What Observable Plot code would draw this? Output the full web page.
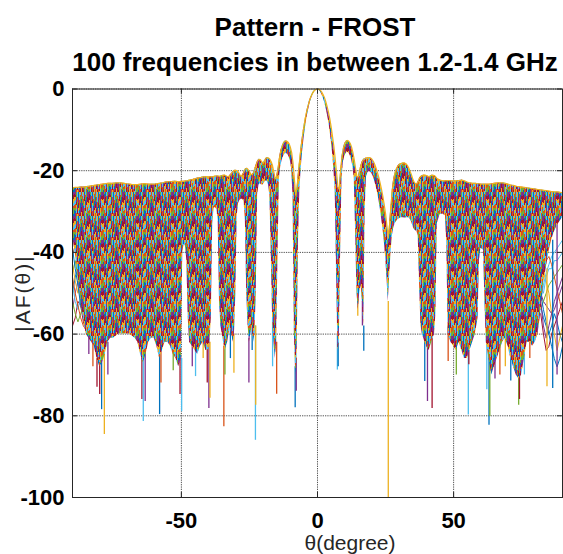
<!DOCTYPE html>
<html><head><meta charset="utf-8">
<script src="https://cdn.jsdelivr.net/npm/d3@7"></script>
<script src="https://cdn.jsdelivr.net/npm/@observablehq/plot@0.6"></script>
<style>
html,body{margin:0;padding:0;background:#fff;overflow:hidden}
#wrap{position:relative;width:563px;height:554px;font-family:"Liberation Sans",Arial,Helvetica,sans-serif}
#wrap svg{position:absolute;left:0;top:0}
.t{position:absolute;white-space:nowrap;font-weight:bold;font-size:26px;line-height:26px;color:#000;transform:translateX(-50%)}
.lab{position:absolute;white-space:nowrap;font-size:21px;line-height:21px;color:#262626}
</style></head><body><div id="wrap"></div>
<script>
// ---- data ----
const titleLines = ["Pattern - FROST", "100 frequencies in between 1.2-1.4 GHz"];
const xLabel = "θ(degree)";
const yLabel = "|AF(θ)|";
const thetaTicks = [-50, 0, 50];
const dbTicks = [0, -20, -40, -60, -80, -100];
const matlabColors = ["#0072BD", "#D95319", "#EDB120", "#7E2F8E", "#77AC30", "#4DBEEE", "#A2142F"];

// envelope of the 100 overlaid curves: [theta, upper (max), lower (min of the solid bundle)]
const bandLeftWing = [
[-90,-24.2,-36],[-89,-24.1,-40],[-88,-24.1,-45],[-87,-24,-51],[-86,-24,-56],[-85,-23.9,-60],[-84,-23.8,-61],[-83,-23.7,-62],[-82,-23.6,-63],[-81,-23.5,-66],[-80,-23.4,-68],[-79,-23.3,-67],[-78,-23.2,-65],[-77,-23.1,-62],[-76,-23.1,-61],[-75,-23.1,-61],[-74,-23,-60.5],[-73,-23,-60],[-72,-23,-60],[-71,-23.1,-60],[-70,-23.2,-60],[-69,-23.3,-60],[-68,-23.4,-60.5],[-67,-23.4,-61],[-66,-23.4,-62],[-65,-23.3,-65],[-64,-23.2,-67],[-63,-23.2,-65],[-62,-23.3,-62],[-61,-23.3,-61],[-60,-23.3,-61],[-59,-23.2,-63],[-58,-23.1,-66],[-57,-23,-64],[-56,-22.8,-62],[-55,-22.7,-62],[-54,-22.7,-63],[-53,-22.6,-65],[-52,-22.6,-66],[-51,-22.7,-68],[-50,-22.6,-66],[-49.5,-22.6,-40],[-49,-22.6,-38],[-48.5,-22.5,-38.5],[-48,-22.5,-42],[-47.5,-22.4,-56],[-47,-22.3,-62],[-46,-22.2,-63],[-45,-22,-64],[-44,-21.8,-65],[-43,-21.7,-63],[-42,-21.5,-62],[-41,-21.5,-64]
];
const bandCenterLeft = [
[-40,-21.5,-64],[-39.5,-21.5,-62],[-39,-21.5,-56],[-38.5,-21.5,-33],[-38,-21.4,-29.2],[-37.5,-21.3,-29],[-37,-21.3,-29.5],[-36.5,-21.3,-32],[-36,-21.4,-52],[-35.5,-21.3,-58],[-35,-21.2,-60],[-34.5,-21.1,-62],[-34,-21.1,-64],[-33.5,-21.3,-63],[-33,-21.5,-62],[-32.5,-21.4,-60],[-32,-21,-58],[-31.5,-20.6,-60],[-31,-20.2,-62],[-30.5,-19.9,-60],[-30,-19.9,-50],[-29.5,-20,-31],[-29,-20.4,-28],[-28.5,-21,-27.3],[-28,-21.4,-27],[-27.5,-21,-27],[-27,-20.3,-27.5],[-26.5,-19.6,-32],[-26,-19.4,-50],[-25.5,-19.7,-58],[-25,-20.2,-62],[-24.5,-20.8,-60],[-24,-21,-58],[-23.5,-20.5,-62],[-23,-19.5,-60],[-22.5,-18.5,-50],[-22,-17.6,-26],[-21.5,-17.2,-23.5],[-21,-17.3,-23.2],[-20.5,-17.8,-23.5],[-20,-18.2,-23.5],[-19.5,-17.6,-23],[-19,-17,-22.5],[-18.5,-16.8,-22.5],[-18,-16.9,-23.5],[-17.5,-17.2,-26],[-17,-17.8,-40],[-16.5,-18.8,-56],[-16,-20.5,-62],[-15.5,-22,-66],[-15,-21.5,-62],[-14.5,-19.5,-40],[-14,-17,-22],[-13.5,-15.2,-19],[-13,-14,-17.5],[-12.5,-13.2,-16.6],[-12,-12.8,-16],[-11.5,-12.7,-15.8],[-11,-12.9,-16],[-10.5,-13.3,-16.5],[-10,-14.2,-17.5],[-9.5,-15.5,-19.5],[-9,-18,-26],[-8.5,-22,-60],[-8,-26,-70],[-7.5,-24,-66],[-7,-20.5,-38],[-6.5,-17,-25],[-6,-14,-19.5],[-5.5,-11.5,-15.5],[-5,-9.2,-12.5],[-4.5,-7.2,-9.8],[-4,-5.6,-7.6],[-3.5,-4.2,-5.8],[-3,-3,-4.3],[-2.5,-2,-3],[-2,-1.3,-2],[-1.5,-0.7,-1.2],[-1,-0.3,-0.6],[-0.5,-0.05,-0.3],[0,0,-0.2]
];
const bandCenterRight = [
[0.5,-0.05,-0.3],[1,-0.3,-0.6],[1.5,-0.7,-1.2],[2,-1.3,-2],[2.5,-2,-3],[3,-3,-4.3],[3.5,-4.2,-5.8],[4,-5.6,-7.6],[4.5,-7.2,-9.8],[5,-9.2,-12.5],[5.5,-11.5,-15.5],[6,-14,-19.5],[6.5,-17,-25],[7,-20.5,-45],[7.5,-24,-64],[8,-24.5,-62],[8.5,-20,-40],[9,-16.5,-22],[9.5,-14.5,-18],[10,-13.4,-16.5],[10.5,-12.8,-15.8],[11,-12.6,-15.5],[11.5,-12.8,-15.7],[12,-13.3,-16.3],[12.5,-14.2,-17.3],[13,-15.5,-19],[13.5,-17.3,-22],[14,-19.5,-35],[14.5,-21.5,-50],[15,-21.5,-54],[15.5,-20,-50],[16,-18.6,-48],[16.5,-17.7,-52],[17,-17.2,-58],[17.5,-17,-30],[18,-16.9,-21.5],[18.5,-16.8,-20.5],[19,-16.8,-20.2],[19.5,-16.9,-20.3],[20,-17.2,-20.8],[20.5,-17.7,-21.5],[21,-18.4,-22.5],[21.5,-19.3,-23.8],[22,-20.4,-25.3],[22.5,-21.6,-27],[23,-23,-29],[23.5,-24.5,-31.5],[24,-26.2,-34],[24.5,-28.3,-37],[25,-30.5,-41],[25.5,-33.5,-46],[26,-36.5,-52],[26.5,-33,-46],[27,-28.5,-40],[27.5,-24.5,-36],[28,-22,-34],[28.5,-20.5,-33],[29,-19.5,-32.5],[29.5,-18.9,-32],[30,-18.5,-31.8],[30.5,-18.3,-31.6],[31,-18.2,-31.5],[31.5,-18.1,-31.5],[32,-18.1,-31.6],[32.5,-18.3,-31.6],[33,-18.7,-31.5],[33.5,-19.3,-31.5],[34,-20.1,-31.8],[34.5,-21,-32.5],[35,-22,-33.5],[35.5,-22.8,-34.3],[36,-23.2,-34.7],[36.5,-23.2,-34.8],[37,-22.6,-36],[37.5,-21.8,-48],[38,-21.4,-58],[38.5,-21.2,-60],[39,-21.1,-61],[39.5,-21.1,-62],[40,-21.2,-63]
];
const bandRightWing = [
[41,-21.5,-64],[42,-21.1,-62],[43,-21.2,-60],[43.5,-21.6,-55],[44,-22,-33],[45,-22.3,-30.8],[46,-22.5,-30.6],[47,-22.5,-31],[47.5,-22.4,-38],[48,-22.4,-60],[49,-22.5,-62],[50,-22.5,-63],[51,-22.5,-64],[52,-22.4,-62],[53,-22.3,-64],[54,-22.5,-66],[55,-22.8,-66],[56,-23,-64],[57,-23.1,-62],[58,-23.1,-60],[59,-23.2,-56],[59.5,-23.2,-42],[60,-23.3,-39],[61,-23.3,-39.5],[61.5,-23.3,-52],[62,-23.3,-62],[63,-23.3,-66],[64,-23.2,-70],[65,-23.1,-68],[66,-23,-66],[67,-23,-64],[68,-23,-62],[69,-23.1,-61],[70,-23.3,-63],[71,-23.5,-66],[72,-23.6,-68],[73,-23.8,-70],[74,-23.9,-71],[75,-24,-70],[76,-24.1,-66],[77,-24.2,-62],[78,-24.3,-62],[79,-24.4,-63],[80,-24.5,-62],[81,-24.6,-60],[82,-24.7,-55],[83,-24.8,-48],[84,-24.9,-44],[85,-25,-40],[86,-25.1,-37],[87,-25.2,-35],[88,-25.2,-33.5],[89,-25.3,-32.5],[90,-25.4,-31.5]
];

// deep single-curve nulls below the bundle: [theta, from dB, to dB, colour index]
const spikes = [
[-84,-60,-65,3],[-82.5,-62,-68,1],[-81,-66,-73,6],[-80,-67,-74.8,6],[-79.3,-66,-78.5,0],[-78.3,-64,-84.6,2],[-77,-62,-70,3],
[-64.5,-66,-76,6],[-64,-66,-81.4,5],[-63.3,-64,-76.5,3],[-58,-65,-79.7,0],[-57.5,-64,-72,1],[-53,-64,-69,4],
[-50.5,-66,-74.8,6],[-49.9,-66,-79,5],[-46,-62,-68,3],[-44.8,-64,-70.4,5],[-42,-62,-66,2],[-40.5,-64,-72,6],
[-39.9,-62,-78.2,3],[-39.5,-62,-75.7,2],[-34.4,-63,-82.7,1],[-34,-63,-70,4],[-32,-58,-66,0],[-30.7,-60,-69.6,2],
[-25.2,-61,-72,3],[-24,-58,-64,0],[-22.8,-58,-86,5],[-22.7,-58,-77.4,2],[-16.5,-56,-68,5],[-15,-62,-74.7,1],
[-8.2,-68,-78,0],[-7.8,-66,-74,3],
[7.3,-60,-68.8,5],[7.6,-62,-68,0],[14.8,-50,-55.6,2],[16.5,-52,-58,3],[17,-58,-64.2,0],[26,-52,-100,2],
[39.4,-60,-71.6,0],[40.4,-61,-76.5,3],[42.1,-61,-78.2,6],[48,-58,-66.7,1],[51,-62,-70,4],[55.4,-64,-79.8,5],[55.6,-64,-67.5,6],
[62.2,-62,-73.6,5],[63,-64,-82.3,0],[63.3,-64,-80.2,4],[65.2,-66,-71,3],[67,-62,-70,1],[69,-60,-68,2],[71,-64,-71.5,0],
[73.9,-68,-77.4,4],[74.2,-68,-76,6],[76,-64,-70,5],[78,-60,-66,1],[84.3,-44,-72.9,2],[86.4,-37,-73.3,0],[88,-33,-70,3]
];

// individual curves that leave the bundle at the two edges
const edgeLeftTheta = [-90, -89, -88, -87, -86, -85];
const edgeLeftLines = [
[-41,-38,-43,-49,-54,-58],[-45,-42,-46,-52,-55,-57],[-50,-46,-44,-48,-53,-59],[-54,-50,-47,-50,-54,-56],
[-58,-56,-52,-53,-57,-59],[-43,-47,-50,-47,-52,-56],[-48,-52,-54,-51,-50,-55],[-46,-50,-53,-56,-58,-59],
[-52,-55,-57,-55,-53,-58],[-39,-44,-48,-53,-55,-58]
];
const edgeRightTheta = [82, 83, 84, 85, 86, 87, 88, 89, 90];
const edgeRightLines = [
[-50,-52,-53,-54,-55,-54,-52,-50,-48],[-52,-48,-45,-43,-41,-40,-39,-38,-37],[-53,-56,-58,-60,-58,-55,-57,-60,-62],
[-46,-45,-47,-50,-55,-60,-64,-61,-58],[-54,-52,-50,-48,-47,-46,-45,-44,-43],[-55,-60,-64,-63,-60,-58,-56,-54,-52],
[-44,-43,-42,-41,-43,-46,-49,-52,-55],[-52,-58,-61,-58,-55,-52,-50,-48,-46],[-48,-50,-46,-44,-44,-42,-42,-41,-40],
[-50,-54,-57,-60,-63,-66,-68,-66,-63]
];

// ---- build tables ----
const band = [...bandLeftWing, ...bandCenterLeft, ...bandCenterRight, ...bandRightWing]
  .map(([theta, upper, lower]) => ({theta, upper, lower}));
const spikeData = spikes.map(([theta, top, bottom, c]) => ({theta, top, bottom, color: matlabColors[c]}));
const edgeData = [];
edgeLeftLines.forEach((vals, i) => vals.forEach((v, j) =>
  edgeData.push({id: "L" + i, theta: edgeLeftTheta[j], db: v, color: matlabColors[(i * 3 + 1) % 7]})));
edgeRightLines.forEach((vals, i) => vals.forEach((v, j) =>
  edgeData.push({id: "R" + i, theta: edgeRightTheta[j], db: v, color: matlabColors[(i * 2 + 3) % 7]})));

const FONT = '"Liberation Sans", Arial, Helvetica, sans-serif';
const tickLenX = 5 / 2.72, tickLenY = 5 / 4.08;

const svg = Plot.plot({
  width: 563, height: 554,
  marginLeft: 72, marginRight: 1, marginTop: 88.5, marginBottom: 57,
  x: {domain: [-90, 90]},
  y: {domain: [-100, 0]},
  color: {type: "identity"},
  style: {fontFamily: FONT, background: "white", color: "#000"},
  marks: [
    Plot.ruleX(thetaTicks, {stroke: "#555", strokeDasharray: "1.3,1", strokeWidth: 1}),
    Plot.ruleY(dbTicks, {stroke: "#555", strokeDasharray: "1.3,1", strokeWidth: 1}),
    Plot.line(edgeData, {x: "theta", y: "db", z: "id", stroke: "color", strokeWidth: 1, clip: true}),
    Plot.ruleX(spikeData, {x: "theta", y1: "top", y2: "bottom", stroke: "color", strokeWidth: 1.3, clip: true}),
    Plot.areaY(band, {x: "theta", y1: "lower", y2: "upper", fill: "url(#weave)", clip: true}),
    Plot.line(band, {x: "theta", y: "upper", stroke: "#EDB120", strokeWidth: 1.2, clip: true}),
    Plot.frame({stroke: "#262626", strokeWidth: 1}),
    Plot.ruleX(thetaTicks, {y1: -100, y2: -100 + tickLenY, stroke: "#262626"}),
    Plot.ruleX(thetaTicks, {y1: 0, y2: -tickLenY, stroke: "#262626"}),
    Plot.ruleY(dbTicks, {x1: -90, x2: -90 + tickLenX, stroke: "#262626"}),
    Plot.ruleY(dbTicks, {x1: 90, x2: 90 - tickLenX, stroke: "#262626"}),
    Plot.axisX(thetaTicks, {tickSize: 0, tickPadding: 15, fontSize: 22, fontWeight: "bold", label: null, tickFormat: d => String(d)}),
    Plot.axisY(dbTicks, {tickSize: 0, tickPadding: 8, fontSize: 22, fontWeight: "bold", label: null, tickFormat: d => String(d)})
  ]
});

// fine, irregular multicolour streak texture standing for the dense bundle of curves
const defs = d3.select(svg).insert("defs", ":first-child");
const TW = 35, TH = 24;
const pat = defs.append("pattern").attr("id", "weave").attr("patternUnits", "userSpaceOnUse")
  .attr("width", TW).attr("height", TH);
pat.append("rect").attr("width", TW).attr("height", TH).attr("fill", "#7E2F8E");
const segLens = [3, 5, 2, 4, 6, 3, 4, 2, 5, 3];
for (let j = 0; j < TW; j++) {
  let y = 0, s = 0;
  while (y < TH) {
    const len = Math.min(segLens[(j * 3 + s * 7) % segLens.length], TH - y);
    const c = matlabColors[((j * 5 + s * 3 + ((j * j) >> 2)) % 7 + 7) % 7];
    pat.append("rect").attr("x", j).attr("y", y).attr("width", 1).attr("height", len).attr("fill", c);
    y += len; s++;
  }
}
d3.select(svg).selectAll('g[aria-label="area"] path').attr("fill", "url(#weave)");

const wrap = document.getElementById("wrap");
wrap.appendChild(svg);
function addDiv(cls, text, css) {
  const d = document.createElement("div");
  d.className = cls; d.textContent = text; Object.assign(d.style, css); wrap.appendChild(d);
}
addDiv("t", titleLines[0], {left: "315px", top: "14px"});
addDiv("t", titleLines[1], {left: "315px", top: "49px"});
addDiv("lab", xLabel, {left: "350px", top: "532px", transform: "translateX(-50%)"});
addDiv("lab", yLabel, {left: "22px", top: "293px", transform: "translate(-50%,-50%) rotate(-90deg)", letterSpacing: "2px"});
</script></body></html>
